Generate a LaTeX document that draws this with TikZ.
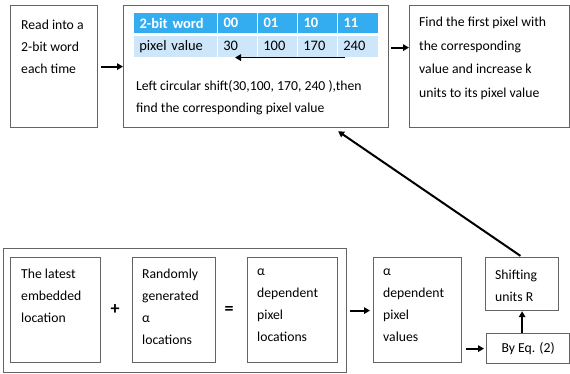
\documentclass[tikz,border=0pt]{standalone}
\usepackage{fontspec}
\setmainfont{Carlito}
\usetikzlibrary{arrows.meta}
\definecolor{boxgray}{RGB}{100,100,100}
\definecolor{hdrblue}{RGB}{51,173,240}
\definecolor{rowblue}{RGB}{206,230,250}
\begin{document}
\begin{tikzpicture}[x=1pt,y=1pt,
  box/.style={draw=boxgray,line width=1.2pt,anchor=north west,inner sep=0pt},
  txt/.style={inner sep=0pt,anchor=north west,align=left,font=\fontsize{13.7}{22}\selectfont},
  hcell/.style={anchor=north west,fill=hdrblue,draw=white,line width=1pt,text=white,
    font=\bfseries\fontsize{14.5}{16}\selectfont,inner xsep=6pt,text width=28pt,
    minimum height=21pt,align=left},
  vcell/.style={anchor=north west,fill=rowblue,draw=white,line width=0.6pt,
    font=\fontsize{14.5}{16}\selectfont,inner xsep=6pt,text width=28pt,
    minimum height=22pt,align=left},
  arr/.style={-{Triangle[length=6pt,width=6.5pt]},line width=2pt,black},
  sign/.style={inner sep=0pt,font=\bfseries\fontsize{18}{20}\selectfont}]
\useasboundingbox (0,0) rectangle (570,-374);
% top row
\node[box,minimum width=87,minimum height=122] (read) at (10,-5) {};
\node[txt] (readtxt) at (21,-20) {Read into a\\2-bit word\\each time};
\node[box,minimum width=265,minimum height=122] (shiftbox) at (123,-5) {};
\node[hcell,text width=72pt] (h0) at (133,-12) {2-bit word};
\node[hcell] (h1) at (217,-12) {00};
\node[hcell] (h2) at (257,-12) {01};
\node[hcell] (h3) at (297,-12) {10};
\node[hcell,text width=29pt] (h4) at (337,-12) {11};
\node[vcell,text width=72pt] (v0) at (133,-35) {pixel value};
\node[vcell] (v1) at (217,-35) {30};
\node[vcell] (v2) at (257,-35) {100};
\node[vcell] (v3) at (297,-35) {170};
\node[vcell,text width=29pt] (v4) at (337,-35) {240};
\draw[arr,line width=1.6pt] ([xshift=8]v4.south west) -- ([xshift=18]v1.south west);
\node[txt,font=\fontsize{13.7}{22.5}\selectfont] (shifttxt) at (136,-80)
  {Left circular shift(30,100, 170, 240 ),then\\find the corresponding pixel value};
\node[box,minimum width=160,minimum height=122] (find) at (409,-5) {};
\node[txt,font=\fontsize{13.7}{23.5}\selectfont] (findtxt) at (419,-17)
  {Find the first pixel with\\the corresponding\\value and increase k\\units to its pixel value};
% bottom row
\node[box,minimum width=343,minimum height=124] (locs) at (3,-248) {};
\node[box,minimum width=90,minimum height=105] (latest) at (10,-257) {};
\node[txt] (latesttxt) at (21,-269) {The latest\\embedded\\location};
\node[sign] (plus) at (115,-310) {+};
\node[box,minimum width=83,minimum height=105] (random) at (132,-257) {};
\node[txt] (randomtxt) at (142,-269) {Randomly\\generated\\α\\locations};
\node[sign] (equal) at (229,-310) {=};
\node[box,minimum width=90,minimum height=105] (dloc) at (247,-257) {};
\node[txt] (dloctxt) at (257,-269) {α\\dependent\\pixel\\locations};
\node[box,minimum width=88,minimum height=105] (dval) at (373,-257) {};
\node[txt] (dvaltxt) at (383,-269) {α\\dependent\\pixel\\values};
\node[box,minimum width=73,minimum height=53] (units) at (485,-257) {};
\node[txt] (unitstxt) at (495,-270) {Shifting\\units R};
\node[box,minimum width=83,minimum height=30] (eq) at (486,-333) {};
\node[inner sep=0pt,font=\fontsize{13.7}{16}\selectfont] (eqtxt) at (eq.center) {By Eq. (2)};
% connectors
\draw[arr,shorten <=3pt] (read.east) -- (shiftbox.west);
\draw[arr,shorten <=2pt] ([yshift=19]shiftbox.east) -- ([yshift=19]find.west);
\draw[arr,shorten <=3pt,shorten >=3pt] (locs.east) -- (locs.east -| dval.west);
\draw[arr,shorten <=4pt,shorten >=2pt] (dval.east |- eq.west) -- (eq.west);
\draw[arr] (units.south |- eq.north) -- (units.south);
\draw[arr,shorten <=2pt] (units.north) -- ([xshift=82,yshift=-3]shiftbox.south);
\end{tikzpicture}
\end{document}
